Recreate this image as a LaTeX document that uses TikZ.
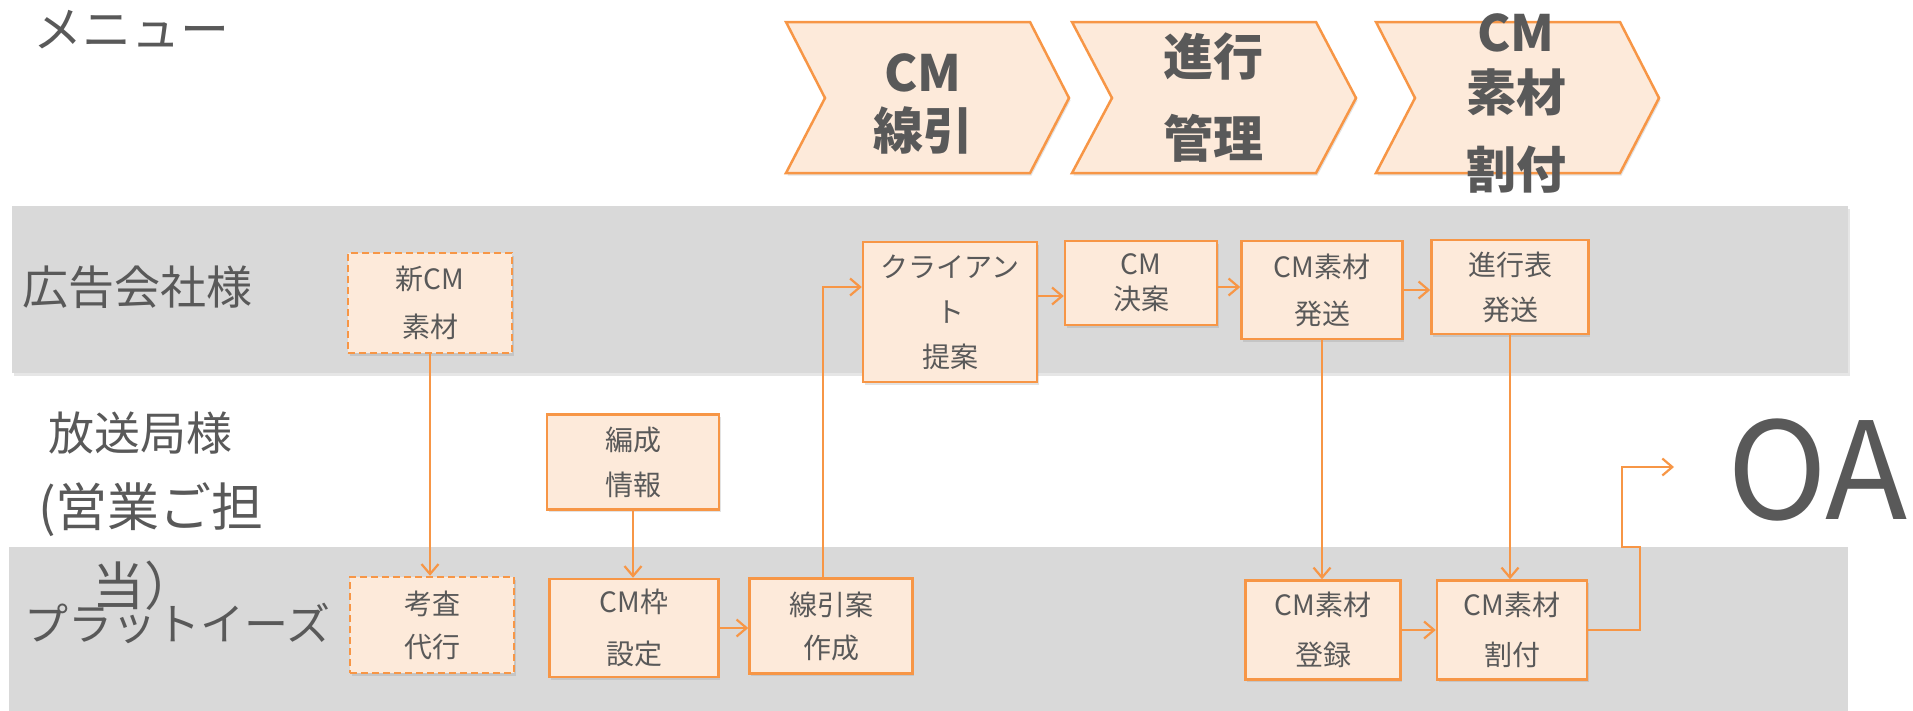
\documentclass[tikz,border=0pt]{standalone}
\usepackage{fontspec}
\setmainfont{Noto Sans CJK JP}
\usetikzlibrary{arrows.meta,shadows}
\definecolor{txt}{HTML}{595959}
\definecolor{boxfill}{HTML}{FDEADA}
\definecolor{boxline}{HTML}{F79646}
\definecolor{lane}{HTML}{D9D9D9}
\begin{document}
\begin{tikzpicture}[x=1pt,y=-1pt,
  shad/.style={drop shadow={opacity=0.22,shadow xshift=1.5pt,shadow yshift=-2.5pt}},
  box/.style={draw=boxline, fill=boxfill, line width=2.5pt, inner sep=0pt, align=center,
    text=txt, font=\fontsize{28}{47}\selectfont, shad},
  dbox/.style={box, dash pattern=on 7pt off 4pt},
  arr/.style={draw=boxline, line width=2pt, -{Straight Barb[length=10pt,width=17pt,line width=2.2pt]}},
  chev/.style={draw=boxline, fill=boxfill, line width=2.5pt, shad},
  chevtext/.style={text=txt, align=center, inner sep=0pt},
  lbl/.style={text=txt, inner sep=0pt, font=\fontsize{46}{76}\selectfont}
]
\useasboundingbox (0,0) rectangle (1913,710);

% lanes
\fill[lane, drop shadow={opacity=0.2,shadow xshift=2pt,shadow yshift=-3pt}] (12,206) rectangle (1848,373);
\fill[lane] (9,547) rectangle (1848,712);

% chevrons
\filldraw[chev] (786,22) -- (1030,22) -- (1069,98) -- (1030,173) -- (786,173) -- (825,98) -- cycle;
\filldraw[chev] (1072,22) -- (1316,22) -- (1356,98) -- (1316,173) -- (1072,173) -- (1112,98) -- cycle;
\filldraw[chev] (1376,22) -- (1620,22) -- (1659,98) -- (1620,173) -- (1376,173) -- (1415,98) -- cycle;
\node[chevtext, font=\fontsize{50}{58}\selectfont\bfseries] (c1) at (923,104) {CM\\線引};
\node[chevtext, font=\fontsize{50}{82}\selectfont\bfseries] (c2) at (1213,98) {進行\\管理};
\node[chevtext, font=\fontsize{50}{60}\selectfont\bfseries] (c3) at (1516,103) {CM\\素材\\[17pt]割付};

% labels
\node[lbl, anchor=west, font=\fontsize{49}{49}\selectfont] (menu) at (33,30) {メニュー};
\node[lbl, anchor=west] (koukoku) at (22,287) {広告会社様};
\node[lbl, anchor=west, align=left] (housou) at (38,511)
  {\fontsize{46}{76}\selectfont\hspace*{10pt}放送局様\\
   \fontsize{52}{76}\selectfont(営業ご担\\[3pt]
   \fontsize{52}{76}\selectfont\hspace*{54pt}当）};
\node[lbl, anchor=west, font=\fontsize{44}{44}\selectfont] (plat) at (24,623) {プラットイーズ};
\node[text=txt, inner sep=0pt, anchor=west, font=\fontsize{135}{135}\selectfont] (oa) at (1727,470) {OA};

% boxes
\node[dbox, minimum width=164pt, minimum height=100pt, font=\fontsize{28}{48}\selectfont] (shin) at (430,303) {新CM\\素材};
\node[dbox, minimum width=164pt, minimum height=96pt, font=\fontsize{28}{43}\selectfont] (kousa) at (432,625) {考査\\代行};
\node[box, minimum width=172pt, minimum height=95pt, font=\fontsize{28}{45}\selectfont] (hensei) at (633,462) {編成\\情報};
\node[box, minimum width=169pt, minimum height=98pt, font=\fontsize{28}{52}\selectfont] (waku) at (634,628) {CM枠\\設定};
\node[box, minimum width=163pt, minimum height=95pt, font=\fontsize{28}{43}\selectfont] (senbiki) at (831,626) {線引案\\作成};
\node[box, minimum width=174pt, minimum height=140pt, font=\fontsize{28}{45}\selectfont] (client) at (950,312) {クライアン\\ト\\提案};
\node[box, minimum width=152pt, minimum height=84pt, font=\fontsize{28}{35}\selectfont] (kettei) at (1141,283) {CM\\決案};
\node[box, minimum width=161pt, minimum height=98pt, font=\fontsize{28}{47}\selectfont] (sozai) at (1322,290) {CM素材\\発送};
\node[box, minimum width=157pt, minimum height=94pt, font=\fontsize{28}{45}\selectfont] (shinkou) at (1510,287) {進行表\\発送};
\node[box, minimum width=155pt, minimum height=99pt, font=\fontsize{28}{50}\selectfont] (touroku) at (1323,630) {CM素材\\登録};
\node[box, minimum width=150pt, minimum height=99pt, font=\fontsize{28}{50}\selectfont] (wari) at (1512,630) {CM素材\\割付};

% connectors
\draw[arr] (shin.south) -- (shin.south |- kousa.north);
\draw[arr] (hensei.south) -- (hensei.south |- waku.north);
\draw[arr] (waku.east) -- (waku.east -| senbiki.west);
\draw[arr] ([xshift=-8pt]senbiki.north) |- ([yshift=25pt]client.west);
\draw[arr] ([yshift=16pt]client.east) -- ([yshift=16pt]client.east -| kettei.west);
\draw[arr] ([yshift=-4pt]kettei.east) -- ([yshift=-4pt]kettei.east -| sozai.west);
\draw[arr] (sozai.east) -- (sozai.east -| shinkou.west);
\draw[arr] (sozai.south) -- (sozai.south |- touroku.north);
\draw[arr] (shinkou.south) -- (shinkou.south |- wari.north);
\draw[arr] (touroku.east) -- (touroku.east -| wari.west);
\coordinate (oaend) at (1674,467);
\draw[arr] (wari.east) -| (1640,547) -- (1622,547) |- (oaend);
\end{tikzpicture}
\end{document}
